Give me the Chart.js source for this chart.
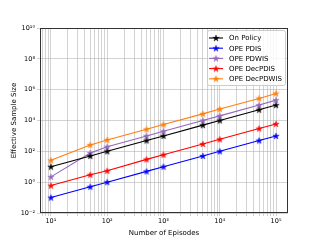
<!DOCTYPE html>
<html>
<head>
<meta charset="utf-8">
<script src="https://cdn.jsdelivr.net/npm/chart.js@4"></script>
<style>
  html, body { margin: 0; padding: 0; background: #fff; }
  #wrap { width: 320px; height: 240px; }
</style>
</head>
<body>
<div id="wrap"><canvas id="myChart" width="320" height="240"></canvas></div>
<script>
// data
var episodes = [10, 50, 100, 500, 1000, 5000, 10000, 50000, 100000];
var onPolicy = [10, 50, 100, 500, 1000, 5000, 10000, 50000, 100000];
var opePdis = [0.1, 0.5, 1, 5, 10, 50, 100, 500, 1000];
var opePdwis = [2.2, 78, 200, 1000, 2000, 10000, 20000, 100000, 210000];
var opeDecPdis = [0.6, 3, 5.5, 30, 60, 300, 600, 3000, 6000];
var opeDecPdwis = [26, 260, 550, 2700, 5500, 27000, 55000, 270000, 570000];

var seriesNames = ['On Policy', 'OPE PDIS', 'OPE PDWIS', 'OPE DecPDIS', 'OPE DecPDWIS'];
var seriesValues = [onPolicy, opePdis, opePdwis, opeDecPdis, opeDecPdwis];
var seriesColors = ['#000000', '#0000ff', '#9467bd', '#ff0000', '#ff7f0e'];

var xTicks = [];
for (var k = 0; k <= 5; k++) {
  for (var m = 1; m <= 9; m++) {
    var v = m * Math.pow(10, k);
    if (v >= 6.4 && v <= 163000) xTicks.push(v);
  }
}
var yTicks = [1e-2, 1e0, 1e2, 1e4, 1e6, 1e8, 1e10];

var sup = {'-': '⁻', '0': '⁰', '1': '¹', '2': '²', '3': '³', '4': '⁴', '5': '⁵', '6': '⁶', '7': '⁷', '8': '⁸', '9': '⁹'};
function powLabel(v) {
  var e = Math.log10(v);
  var r = Math.round(e);
  if (Math.abs(e - r) > 1e-9) return '';
  return '10' + String(r).split('').map(function (c) { return sup[c]; }).join('');
}

// small 5-point star like matplotlib's '*' marker
function starImage(color) {
  var s = 8, cv = document.createElement('canvas');
  cv.width = s; cv.height = s;
  var c = cv.getContext('2d');
  var R = 3.4, r = 1.3, cx = s / 2, cy = s / 2 + 0.3;
  c.beginPath();
  for (var i = 0; i < 10; i++) {
    var rad = i % 2 ? r : R;
    var ang = -Math.PI / 2 + i * Math.PI / 5;
    var px = cx + rad * Math.cos(ang), py = cy + rad * Math.sin(ang);
    if (i) c.lineTo(px, py); else c.moveTo(px, py);
  }
  c.closePath();
  c.fillStyle = color;
  c.fill();
  c.strokeStyle = color;
  c.lineWidth = 0.4;
  c.stroke();
  return cv;
}
var stars = seriesColors.map(starImage);

var datasets = seriesNames.map(function (name, i) {
  return {
    label: name,
    data: episodes.map(function (x, j) { return {x: x, y: seriesValues[i][j]}; }),
    borderColor: seriesColors[i],
    backgroundColor: seriesColors[i],
    borderWidth: 1.1,
    pointStyle: stars[i],
    pointRadius: 3,
    tension: 0
  };
});

// frame around the plot + legend inside the top right corner
var framePlugin = {
  id: 'frame',
  afterDraw: function (chart) {
    var c = chart.ctx, a = chart.chartArea;
    c.save();
    c.strokeStyle = '#333';
    c.lineWidth = 1;
    c.strokeRect(a.left + 0.5, a.top + 0.5, a.right - a.left - 1, a.bottom - a.top - 1);

    var bx = 207, by = 30, bw = 78, bh = 55;
    c.fillStyle = 'rgba(255,255,255,0.85)';
    c.strokeStyle = '#cccccc';
    c.beginPath();
    c.roundRect(bx + 0.5, by + 0.5, bw, bh, 2);
    c.fill();
    c.stroke();
    c.font = '7px "DejaVu Sans"';
    c.textBaseline = 'middle';
    chart.data.datasets.forEach(function (ds, i) {
      var yy = by + 8 + i * 10.2;
      c.strokeStyle = ds.borderColor;
      c.lineWidth = 1.1;
      c.beginPath();
      c.moveTo(bx + 2, yy);
      c.lineTo(bx + 16, yy);
      c.stroke();
      c.drawImage(stars[i], bx + 9 - 4, yy - 4);
      c.fillStyle = '#000';
      c.fillText(ds.label, bx + 22, yy + 0.5);
    });
    c.restore();
  }
};

var ctx = document.getElementById('myChart');
var myChart = new Chart(ctx, {
  type: 'line',
  data: {datasets: datasets},
  options: {
    responsive: false,
    animation: false,
    layout: {padding: {left: 0, right: 32, top: 28, bottom: 0}},
    plugins: {legend: {display: false}, tooltip: {enabled: false}},
    scales: {
      x: {
        type: 'logarithmic',
        min: 6.4,
        max: 163000,
        afterBuildTicks: function (s) { s.ticks = xTicks.map(function (v) { return {value: v}; }); },
        afterFit: function (s) { s.height = 27; },
        ticks: {
          autoSkip: false, maxRotation: 0, padding: 1, color: '#000',
          font: {family: 'DejaVu Sans', size: 6.5},
          callback: function (v) { return powLabel(v); }
        },
        grid: {color: 'rgba(176,176,176,0.7)', lineWidth: 0.8, tickLength: 3},
        border: {display: false},
        title: {display: true, text: 'Number of Episodes', color: '#000', font: {family: 'DejaVu Sans', size: 7}, padding: {top: 0, bottom: 3}}
      },
      y: {
        type: 'logarithmic',
        min: 1e-2,
        max: 1e10,
        afterBuildTicks: function (s) { s.ticks = yTicks.map(function (v) { return {value: v}; }); },
        afterFit: function (s) { s.width = 40; },
        ticks: {
          autoSkip: false, padding: 2, color: '#000',
          font: {family: 'DejaVu Sans', size: 6.5},
          callback: function (v) { return powLabel(v); }
        },
        grid: {color: 'rgba(176,176,176,0.7)', lineWidth: 0.8, tickLength: 3},
        border: {display: false},
        title: {display: true, text: 'Effective Sample Size', color: '#000', font: {family: 'DejaVu Sans', size: 7}, padding: {top: 10, bottom: 2}}
      }
    }
  },
  plugins: [framePlugin]
});
</script>
</body>
</html>
